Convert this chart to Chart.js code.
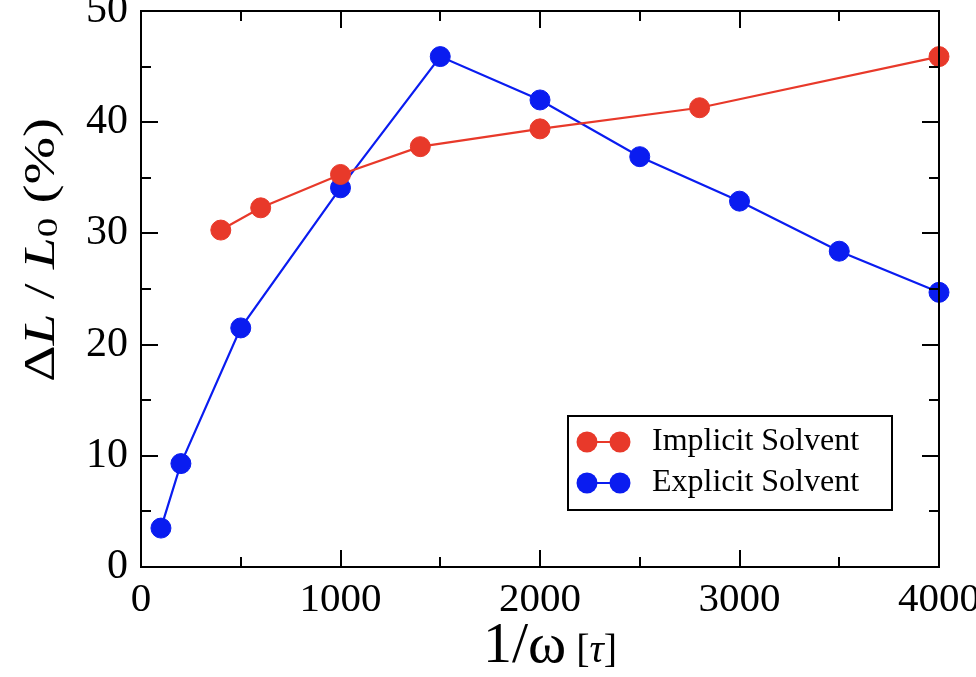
<!DOCTYPE html>
<html>
<head>
<meta charset="utf-8">
<script src="https://cdn.jsdelivr.net/npm/chart.js@4.4.1/dist/chart.umd.min.js"></script>
<style>
  html, body { margin: 0; padding: 0; background: #fff; }
</style>
</head>
<body>
<canvas id="grafico" width="976" height="677"></canvas>
<script>
const implicitX = [400, 600, 1000, 1400, 2000, 2800, 4000];
const implicitY = [30.3, 32.3, 35.3, 37.8, 39.4, 41.3, 45.9];
const explicitX = [100, 200, 500, 1000, 1500, 2000, 2500, 3000, 3500, 4000];
const explicitY = [3.5, 9.3, 21.5, 34.1, 45.9, 42.0, 36.9, 32.9, 28.4, 24.7];
const xTicks = [0, 1000, 2000, 3000, 4000];
const yTicks = [0, 10, 20, 30, 40, 50];
const seriesNames = ["Implicit Solvent", "Explicit Solvent"];
const seriesColors = ["#e8392a", "#0a1cf0"];

const serif = '"Liberation Serif", "Times New Roman", serif';

function pontos(xs, ys) {
    return xs.map(function (x, i) { return { x: x, y: ys[i] }; });
}

// minor ticks halfway between the major ones
function meios(arr) {
    const out = [];
    for (let i = 0; i < arr.length - 1; i++) out.push((arr[i] + arr[i + 1]) / 2);
    return out;
}

const molduraPlugin = {
    id: "moldura",
    afterDraw: function (chart) {
        const ctx = chart.ctx;
        const a = chart.chartArea;
        const sx = chart.scales.x;
        const sy = chart.scales.y;
        ctx.save();
        ctx.strokeStyle = "#000";
        ctx.lineWidth = 2;
        ctx.strokeRect(a.left, a.top, a.right - a.left, a.bottom - a.top);

        // inward ticks on all four sides
        function ticksX(vals, len) {
            vals.forEach(function (v) {
                const p = Math.round(sx.getPixelForValue(v));
                ctx.beginPath();
                ctx.moveTo(p, a.bottom); ctx.lineTo(p, a.bottom - len);
                ctx.moveTo(p, a.top); ctx.lineTo(p, a.top + len);
                ctx.stroke();
            });
        }
        function ticksY(vals, len) {
            vals.forEach(function (v) {
                const p = Math.round(sy.getPixelForValue(v));
                ctx.beginPath();
                ctx.moveTo(a.left, p); ctx.lineTo(a.left + len, p);
                ctx.moveTo(a.right, p); ctx.lineTo(a.right - len, p);
                ctx.stroke();
            });
        }
        ticksX(xTicks, 17);
        ticksX(meios(xTicks), 10);
        ticksY(yTicks, 17);
        ticksY(meios(yTicks), 10);

        ctx.fillStyle = "#000";

        // y title:  ΔL / L0 (%)
        const partes = [
            { t: "\u0394", f: "44px " + serif, dy: 0 },
            { t: "L", f: "italic 44px " + serif, dy: 0 },
            { t: " / ", f: "44px " + serif, dy: 0 },
            { t: "L", f: "italic 44px " + serif, dy: 0 },
            { t: "0", f: "30px " + serif, dy: 3 },
            { t: " (%)", f: "44px " + serif, dy: 0 }
        ];
        let total = 0;
        partes.forEach(function (p) { ctx.font = p.f; p.w = ctx.measureText(p.t).width; total += p.w; });
        ctx.save();
        ctx.translate(54, 250);
        ctx.rotate(-Math.PI / 2);
        ctx.scale(264 / total, 1);
        ctx.textBaseline = "alphabetic";
        ctx.textAlign = "left";
        let cx = -total / 2;
        partes.forEach(function (p) { ctx.font = p.f; ctx.fillText(p.t, cx, p.dy); cx += p.w; });
        ctx.restore();

        // x title:  1/ω [τ]
        const xt = [
            { t: "1/\u03c9", f: "58px " + serif },
            { t: " [", f: "40px " + serif },
            { t: "\u03c4", f: "italic 40px " + serif },
            { t: "]", f: "40px " + serif }
        ];
        let tw = 0;
        xt.forEach(function (p) { ctx.font = p.f; p.w = ctx.measureText(p.t).width; tw += p.w; });
        let px = 550 - tw / 2;
        ctx.textBaseline = "alphabetic";
        ctx.textAlign = "left";
        xt.forEach(function (p) { ctx.font = p.f; ctx.fillText(p.t, px, 662); px += p.w; });

        // legend box
        ctx.lineWidth = 2;
        ctx.strokeStyle = "#000";
        ctx.strokeRect(568, 416, 324, 94);
        chart.data.datasets.forEach(function (ds, i) {
            const y = 442 + i * 41;
            ctx.strokeStyle = ds.borderColor;
            ctx.fillStyle = ds.backgroundColor;
            ctx.lineWidth = 2;
            ctx.beginPath();
            ctx.moveTo(587, y); ctx.lineTo(620, y);
            ctx.stroke();
            [587, 620].forEach(function (mx) {
                ctx.beginPath();
                ctx.arc(mx, y, 10.5, 0, Math.PI * 2);
                ctx.fill();
            });
            ctx.fillStyle = "#000";
            ctx.font = "32px " + serif;
            ctx.textBaseline = "middle";
            ctx.fillText(ds.label, 652, y);
        });
        ctx.restore();
    }
};

const ctx = document.getElementById("grafico");

new Chart(ctx, {
    type: "scatter",
    data: {
        datasets: [
            {
                label: seriesNames[0],
                data: pontos(implicitX, implicitY),
                showLine: true,
                borderColor: seriesColors[0],
                backgroundColor: seriesColors[0],
                borderWidth: 2.2,
                pointRadius: 10,
                pointBorderWidth: 1,
                pointHoverRadius: 10
            },
            {
                label: seriesNames[1],
                data: pontos(explicitX, explicitY),
                showLine: true,
                borderColor: seriesColors[1],
                backgroundColor: seriesColors[1],
                borderWidth: 2.2,
                pointRadius: 10,
                pointBorderWidth: 1,
                pointHoverRadius: 10
            }
        ]
    },
    options: {
        responsive: false,
        animation: false,
        devicePixelRatio: 1,
        layout: { padding: { top: 8, right: 37, left: 0, bottom: 0 } },
        plugins: {
            legend: { display: false },
            tooltip: { enabled: false }
        },
        elements: { line: { tension: 0 } },
        clip: false,
        scales: {
            x: {
                type: "linear",
                min: 0,
                max: 4000,
                afterBuildTicks: function (scale) {
                    scale.ticks = xTicks.map(function (v) { return { value: v }; });
                },
                afterFit: function (scale) {
                    scale.height = 110;
                    scale.paddingLeft = 0;
                    scale.paddingRight = 0;
                },
                ticks: {
                    color: "#000",
                    font: { family: serif, size: 41 },
                    maxRotation: 0,
                    autoSkip: false,
                    padding: 9,
                    callback: function (v) { return String(v); }
                },
                grid: { display: false, drawTicks: false },
                border: { display: false }
            },
            y: {
                type: "linear",
                min: 0,
                max: 50,
                afterBuildTicks: function (scale) {
                    scale.ticks = yTicks.map(function (v) { return { value: v }; });
                },
                afterFit: function (scale) {
                    scale.width = 141;
                    scale.paddingTop = 0;
                    scale.paddingBottom = 0;
                },
                ticks: {
                    color: "#000",
                    font: { family: serif, size: 42 },
                    autoSkip: false,
                    padding: 13,
                    callback: function (v) { return String(v); }
                },
                grid: { display: false, drawTicks: false },
                border: { display: false }
            }
        }
    },
    plugins: [molduraPlugin]
});
</script>
</body>
</html>
